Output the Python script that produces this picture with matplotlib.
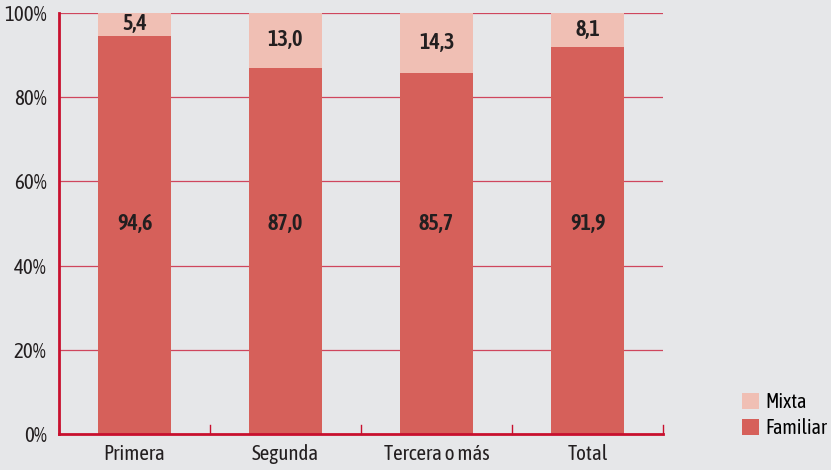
import matplotlib

matplotlib.use("Agg")

import matplotlib.pyplot as plt
import numpy as np
from matplotlib.patches import Patch

categorias = ["Primera", "Segunda", "Tercera o más", "Total"]
familiar = [94.6, 87.0, 85.7, 91.9]
mixta = [5.4, 13.0, 14.3, 8.1]
ticks_y = [0, 20, 40, 60, 80, 100]

FONDO = "#E6E7E9"
ROJO = "#C8102E"
COLOR_FAMILIAR = "#D6605A"
COLOR_MIXTA = "#F0BFB4"
TEXTO = "#231F20"

plt.rcParams["font.family"] = ["Asap Condensed", "DejaVu Sans"]

fig = plt.figure(figsize=(8.31, 4.70), dpi=100, facecolor=FONDO)
ax = fig.add_axes([0.071, 0.0766, 0.727, 0.8957], facecolor=FONDO)

x = np.arange(len(categorias))
ancho = 0.48

for y in ticks_y[1:]:
    ax.axhline(y, color=ROJO, linewidth=0.9, alpha=0.75, zorder=1)

ax.bar(x, familiar, ancho, color=COLOR_FAMILIAR, zorder=2, label="Familiar")
ax.bar(x, mixta, ancho, bottom=familiar, color=COLOR_MIXTA, zorder=2, label="Mixta")

# etiquetas: familiar al centro del eje, mixta dentro del tramo superior
for i in range(len(categorias)):
    ax.text(x[i], 50, f"{familiar[i]:.1f}".replace(".", ","),
            ha="center", va="center", fontsize=16, fontweight=600, color=TEXTO, zorder=3)
    y_mixta = 100 - min(mixta[i] / 2, 7.4)
    ax.text(x[i], y_mixta, f"{mixta[i]:.1f}".replace(".", ","),
            ha="center", va="center", fontsize=16, fontweight=600, color=TEXTO, zorder=3)

ax.set_xlim(-0.5, len(categorias) - 0.5)
ax.set_ylim(0, 100)
ax.set_yticks(ticks_y)
ax.set_yticklabels([f"{v}%" for v in ticks_y], fontsize=15, color=TEXTO)
ax.tick_params(axis="y", length=0, pad=9)

ax.set_xticks(x)
ax.set_xticklabels(categorias, fontsize=15, color=TEXTO)
ax.tick_params(axis="x", length=0, pad=7)

# separadores de categoría sobre el eje x
for b in np.arange(-0.5, len(categorias), 1.0):
    ax.plot([b, b], [0, 2.2], color=ROJO, linewidth=1.0, zorder=4, clip_on=False)

for lado in ["top", "right"]:
    ax.spines[lado].set_visible(False)
ax.spines["left"].set_color(ROJO)
ax.spines["left"].set_linewidth(2.0)
ax.spines["bottom"].set_color(ROJO)
ax.spines["bottom"].set_linewidth(2.0)

handles = [Patch(facecolor=COLOR_MIXTA, label="Mixta"),
           Patch(facecolor=COLOR_FAMILIAR, label="Familiar")]
fig.legend(handles=handles, loc="lower left", bbox_to_anchor=(0.893, 0.068),
           frameon=False, fontsize=14.5, handlelength=0.85, handleheight=0.85,
           handletextpad=0.3, labelspacing=0.3, borderpad=0, borderaxespad=0)

fig.savefig("out.png", dpi=100, facecolor=FONDO)
